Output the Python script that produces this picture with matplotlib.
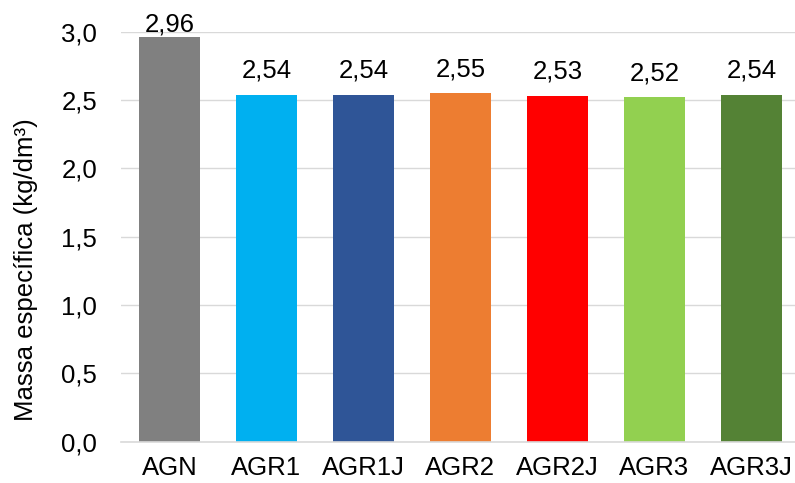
import matplotlib
matplotlib.use("Agg")
from matplotlib import pyplot as plt

# 各骨料的比重数据
amostras = ["AGN", "AGR1", "AGR1J", "AGR2", "AGR2J", "AGR3", "AGR3J"]
massa_especifica = [2.96, 2.54, 2.54, 2.55, 2.53, 2.52, 2.54]
cores = ["#808080", "#00B0F0", "#2F5597", "#ED7D31", "#FF0000", "#92D050", "#548235"]
yticks = [0.0, 0.5, 1.0, 1.5, 2.0, 2.5, 3.0]


def grafico_massa():
    plt.rcParams["font.family"] = ["Liberation Sans", "DejaVu Sans"]
    fig = plt.figure(figsize=(7.95, 4.83), dpi=100)
    ax = fig.add_axes([0.152, 0.0855, 0.848, 0.8489])

    x = list(range(len(amostras)))
    ax.bar(x, massa_especifica, width=0.63, color=cores, zorder=3)

    # 数值标签, 顶部不超出绘图区
    for xi, v in zip(x, massa_especifica):
        ax.text(xi, min(v + 0.125, 3.0), "{:.2f}".format(v).replace(".", ","),
                ha="center", va="baseline", fontsize=18.5, color="black")

    ax.set_xlim(-0.5, 6.448)
    ax.set_ylim(0, 3.0)
    ax.set_xticks(x)
    ax.set_xticklabels(amostras, fontsize=18.5)
    ax.set_yticks(yticks)
    ax.set_yticklabels(["{:.1f}".format(t).replace(".", ",") for t in yticks], fontsize=18.5)
    ax.tick_params(axis="both", length=0)
    ax.tick_params(axis="y", pad=17)
    ax.tick_params(axis="x", pad=10.5)

    ax.grid(axis="y", color="#D9D9D9", linewidth=1.0, zorder=0)
    for s in ["top", "right", "left"]:
        ax.spines[s].set_visible(False)
    ax.spines["bottom"].set_color("#D9D9D9")
    ax.spines["bottom"].set_linewidth(1.2)
    ax.spines["bottom"].set_zorder(4)

    ax.set_ylabel("Massa específica (kg/dm³)", fontsize=18.5)
    ax.yaxis.set_label_coords(-0.123, 0.42)

    fig.savefig("out.png", dpi=100)


def main():
    grafico_massa()


if __name__ == "__main__":
    main()
